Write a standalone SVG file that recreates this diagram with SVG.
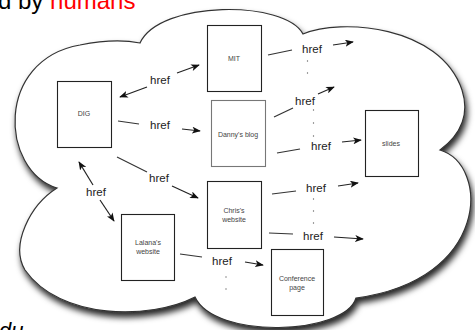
<svg xmlns="http://www.w3.org/2000/svg" width="475" height="330" viewBox="0 0 475 330">
<style>
.node rect{fill:#fff;stroke:#222;stroke-width:1.1}
.lbl{font-family:"Liberation Sans",Arial,sans-serif;font-size:7px;fill:#444;text-anchor:middle}
.href{font-family:"Liberation Sans",Arial,sans-serif;font-size:11.5px;fill:#222;text-anchor:middle}
.ln{stroke:#333;stroke-width:1.2;fill:none}
.ar{stroke:#222;stroke-width:1.2;fill:none;marker-end:url(#ah)}
.dot{fill:#666}
</style>
<defs>
<marker id="ah" viewBox="0 0 10 8" refX="9" refY="4" markerWidth="9" markerHeight="7" markerUnits="userSpaceOnUse" orient="auto-start-reverse">
<path d="M0,0 L10,4 L0,8 L2.5,4 z" fill="#111"/>
</marker>
<filter id="sh" x="-10%" y="-10%" width="125%" height="130%">
<feDropShadow dx="2" dy="5" stdDeviation="3" flood-color="#000" flood-opacity="0.85"/>
</filter>
</defs>
<rect width="475" height="330" fill="#fff"/>
<text x="-2" y="8.5" font-family="'Liberation Sans',Arial,sans-serif" font-size="24" fill="#000">d by <tspan fill="#f00">humans</tspan></text>
<text x="-1" y="338" font-family="'Liberation Sans',Arial,sans-serif" font-size="22" font-style="italic" fill="#000">du</text>
<g id="cloud">
<path filter="url(#sh)" d="M140,43 C160,0 285,0 303,34 C340,18 440,25 462,90 C470,115 460,135 440,150 C490,165 490,280 356,298 C345,335 215,340 195,297 C150,320 60,320 25,270 C10,245 30,205 57,188 C0,170 -5,60 80,45 C105,40 125,40 140,43 Z" fill="#fff" stroke="#333" stroke-width="1.2"/>
</g>
<g id="connectors">
<line class="ar" x1="147" y1="87" x2="120" y2="97"/>
<line class="ar" x1="177" y1="73" x2="199" y2="65"/>
<line class="ln" x1="118" y1="121" x2="139" y2="124"/>
<line class="ar" x1="182" y1="129" x2="200" y2="131"/>
<line class="ln" x1="117" y1="157" x2="147" y2="172"/>
<line class="ar" x1="172" y1="186" x2="198" y2="198"/>
<line class="ar" x1="93" y1="185" x2="79" y2="162"/>
<line class="ar" x1="100" y1="200" x2="114" y2="221"/>
<line class="ln" x1="180" y1="254" x2="202" y2="257"/>
<line class="ar" x1="245" y1="262" x2="263" y2="265"/>
<line class="ln" x1="268" y1="55" x2="292" y2="50"/>
<line class="ar" x1="333" y1="45" x2="353" y2="42"/>
<line class="ln" x1="274" y1="117" x2="293" y2="108"/>
<line class="ar" x1="318" y1="94" x2="334" y2="87"/>
<line class="ln" x1="277" y1="153" x2="300" y2="149"/>
<line class="ar" x1="342" y1="142" x2="361" y2="140"/>
<line class="ln" x1="272" y1="194" x2="296" y2="191"/>
<line class="ar" x1="338" y1="186" x2="358" y2="183"/>
<line class="ln" x1="269" y1="233" x2="293" y2="234"/>
<line class="ar" x1="334" y1="237" x2="363" y2="239"/>
<circle class="dot" cx="307.5" cy="61" r="0.7"/>
<circle class="dot" cx="307.5" cy="73" r="0.7"/>
<circle class="dot" cx="313.5" cy="110" r="0.7"/>
<circle class="dot" cx="313.5" cy="123" r="0.7"/>
<circle class="dot" cx="313.5" cy="136" r="0.7"/>
<circle class="dot" cx="313.5" cy="199" r="0.7"/>
<circle class="dot" cx="313.5" cy="211" r="0.7"/>
<circle class="dot" cx="313.5" cy="223" r="0.7"/>
<circle class="dot" cx="226" cy="277" r="0.7"/>
<circle class="dot" cx="226" cy="289" r="0.7"/>
<text class="href" x="160" y="84">href</text>
<text class="href" x="160" y="129">href</text>
<text class="href" x="159" y="182">href</text>
<text class="href" x="96" y="196">href</text>
<text class="href" x="222" y="265">href</text>
<text class="href" x="312" y="53">href</text>
<text class="href" x="305" y="105">href</text>
<text class="href" x="321" y="150">href</text>
<text class="href" x="316" y="192">href</text>
<text class="href" x="313" y="240">href</text>
</g>
<g id="dig" class="node"><rect x="57.5" y="81.5" width="54" height="66"/><text class="lbl" x="84" y="116">DIG</text></g>
<g id="mit" class="node"><rect x="207.5" y="25.5" width="54" height="66"/><text class="lbl" x="234" y="61">MIT</text></g>
<g id="danny" class="node"><rect x="211.5" y="100.5" width="54" height="66" style="stroke:#777"/><text class="lbl" x="238" y="137">Danny's blog</text></g>
<g id="slides" class="node"><rect x="365.5" y="110.5" width="53" height="66"/><text class="lbl" x="391" y="146">slides</text></g>
<g id="chris" class="node"><rect x="207.5" y="181.5" width="54" height="67"/><text class="lbl" x="234" y="213">Chris's</text><text class="lbl" x="234" y="222">website</text></g>
<g id="lalana" class="node"><rect x="121.5" y="214.5" width="53" height="66"/><text class="lbl" x="148" y="245">Lalana's</text><text class="lbl" x="148" y="254">website</text></g>
<g id="conference" class="node"><rect x="271.5" y="249.5" width="52" height="66"/><text class="lbl" x="297" y="281">Conference</text><text class="lbl" x="297" y="290">page</text></g>
</svg>
